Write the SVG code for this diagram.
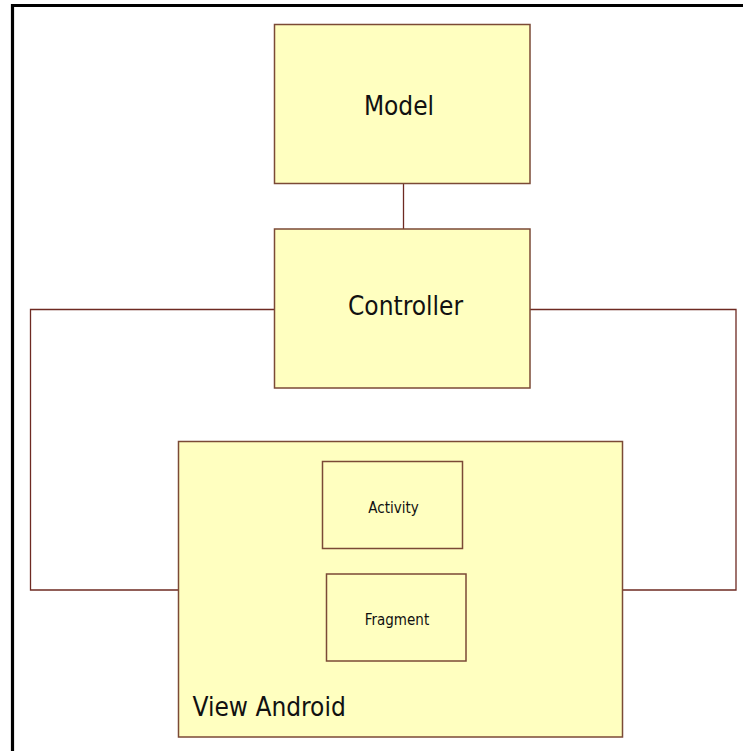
<svg xmlns="http://www.w3.org/2000/svg" width="743" height="751" viewBox="0 0 743 751">
  <style>
    .box { fill: #ffffc0; stroke: #7b4a36; stroke-width: 1.5; }
    .wire { fill: none; stroke: #6e2a22; stroke-width: 1.3; }
    .lbl { font-family: "DejaVu Sans Condensed", "DejaVu Sans", "Liberation Sans", sans-serif; font-stretch: condensed; fill: #111111; text-anchor: middle; }
    .big { font-size: 26px; }
    .small { font-size: 15px; }
  </style>
  <rect x="0" y="0" width="743" height="751" fill="#ffffff"/>
  <!-- page frame -->
  <path d="M12.5 751 V5.5 H743" fill="none" stroke="#000000" stroke-width="3.2"/>

  <g id="connectors">
    <line class="wire" x1="403.5" y1="183" x2="403.5" y2="229"/>
    <polyline class="wire" points="274,309.5 30.5,309.5 30.5,590 178,590"/>
    <polyline class="wire" points="530,309.5 736,309.5 736,590 622,590"/>
  </g>

  <g id="model">
    <rect class="box" x="274.5" y="24.5" width="255.5" height="159"/>
    <text class="lbl big" x="399" y="115">Model</text>
  </g>

  <g id="controller">
    <rect class="box" x="274.5" y="229" width="255.5" height="159"/>
    <text class="lbl big" x="405.5" y="315">Controller</text>
  </g>

  <g id="view-android">
    <rect class="box" x="178.5" y="441.5" width="444" height="295.5"/>
    <text class="lbl big" x="192.5" y="716" style="text-anchor:start">View Android</text>
  </g>

  <g id="activity">
    <rect class="box" x="322.5" y="461.5" width="140" height="87"/>
    <text class="lbl small" x="393.5" y="513">Activity</text>
  </g>

  <g id="fragment">
    <rect class="box" x="326.5" y="574" width="139.5" height="87"/>
    <text class="lbl small" x="397" y="625">Fragment</text>
  </g>
</svg>
